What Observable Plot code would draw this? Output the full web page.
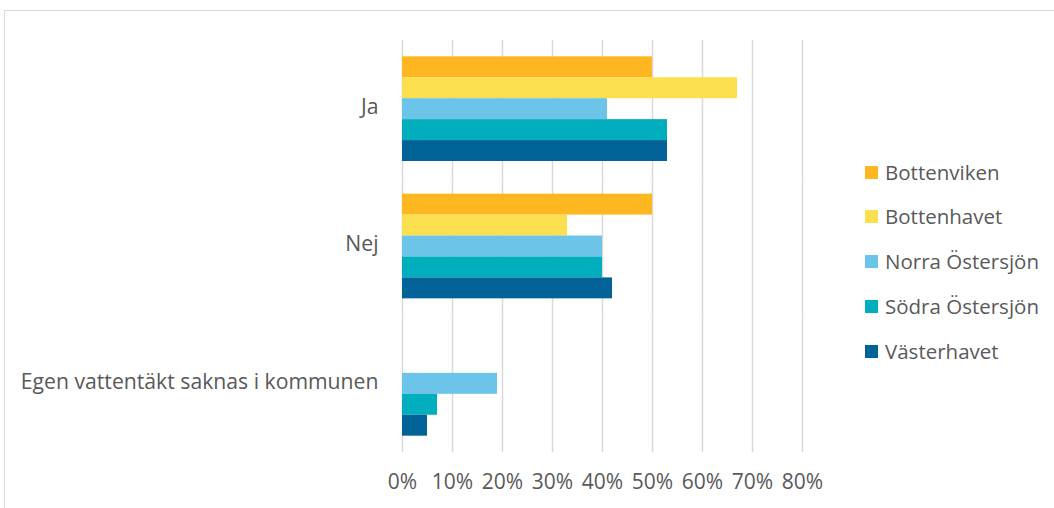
<!DOCTYPE html>
<html>
<head>
<meta charset="utf-8">
<script src="https://cdn.jsdelivr.net/npm/d3@7"></script>
<script src="https://cdn.jsdelivr.net/npm/@observablehq/plot@0.6"></script>
<style>
  html, body { margin: 0; padding: 0; background: #fff; overflow: hidden; }
  #wrap { position: relative; width: 1054px; height: 508px; overflow: hidden; font-family: "Open Sans", sans-serif; }
  #frame { position: absolute; left: 4px; top: 10px; width: 1200px; height: 700px; border: 1px solid #d9d9d9; box-sizing: border-box; }
  #chart { position: absolute; left: 0; top: 0; }
  #legend { position: absolute; left: 865px; top: 0; }
  .li { position: absolute; left: 0; white-space: nowrap; display: flex; align-items: center; color: #595959; font-size: 20.5px; }
  .sw { width: 13px; height: 13px; margin-right: 7px; }
</style>
</head>
<body>
<div id="wrap">
  <div id="frame"></div>
  <div id="chart"></div>
  <div id="legend"></div>
</div>
<script>
const categories = ["Ja", "Nej", "Egen vattentäkt saknas i kommunen"];
const series = ["Bottenviken", "Bottenhavet", "Norra Östersjön", "Södra Östersjön", "Västerhavet"];
const colors = ["#FEB721", "#FCDF4F", "#6CC4E8", "#00AEBE", "#016298"];
// values in percent, one array per series (order matches categories)
const bottenviken    = [50, 50, 0];
const bottenhavet    = [67, 33, 0];
const norraOstersjon = [41, 40, 19];
const sodraOstersjon = [53, 40, 7];
const vasterhavet    = [53, 42, 5];
const xTicks = [0, 0.1, 0.2, 0.3, 0.4, 0.5, 0.6, 0.7, 0.8];

const valuesBySeries = [bottenviken, bottenhavet, norraOstersjon, sodraOstersjon, vasterhavet];
const data = [];
categories.forEach((c, ci) => {
  series.forEach((s, si) => {
    data.push({category: c, series: s, value: valuesBySeries[si][ci] / 100});
  });
});

const textColor = "#595959";
const chart = Plot.plot({
  width: 1054,
  height: 508,
  marginTop: 40,
  marginBottom: 56,
  marginLeft: 402,
  marginRight: 252,
  style: {fontFamily: "'Open Sans', sans-serif", fontSize: "20px", color: textColor, background: "transparent"},
  x: {domain: [0, 0.8], ticks: xTicks, tickFormat: d3.format(".0%"), label: null},
  y: {domain: series, axis: null, paddingInner: 0, paddingOuter: 0.78, round: false},
  fy: {domain: categories, padding: 0, label: null, round: false},
  color: {domain: series, range: colors},
  marks: [
    Plot.ruleX(xTicks, {stroke: "#d9d9d9", strokeWidth: 1.5}),
    Plot.barX(data, {x: "value", y: "series", fy: "category", fill: "series", insetTop: 0, insetBottom: 0}),
    Plot.axisX({ticks: xTicks, tickFormat: d3.format(".0%"), tickSize: 0, tickPadding: 22, fill: textColor, fontSize: 21, label: null}),
    Plot.axisFy({anchor: "left", tickSize: 0, tickPadding: 24, fill: textColor, fontSize: 21.2, label: null, dy: -2})
  ]
});
document.getElementById("chart").appendChild(chart);

const legendY = [172, 216, 261, 306, 351];
const legend = document.getElementById("legend");
series.forEach((s, i) => {
  const row = document.createElement("div");
  row.className = "li";
  row.style.top = (legendY[i] - 13) + "px";
  row.style.height = "26px";
  const sw = document.createElement("span");
  sw.className = "sw";
  sw.style.background = colors[i];
  const t = document.createElement("span");
  t.textContent = s;
  row.appendChild(sw);
  row.appendChild(t);
  legend.appendChild(row);
});
</script>
</body>
</html>
